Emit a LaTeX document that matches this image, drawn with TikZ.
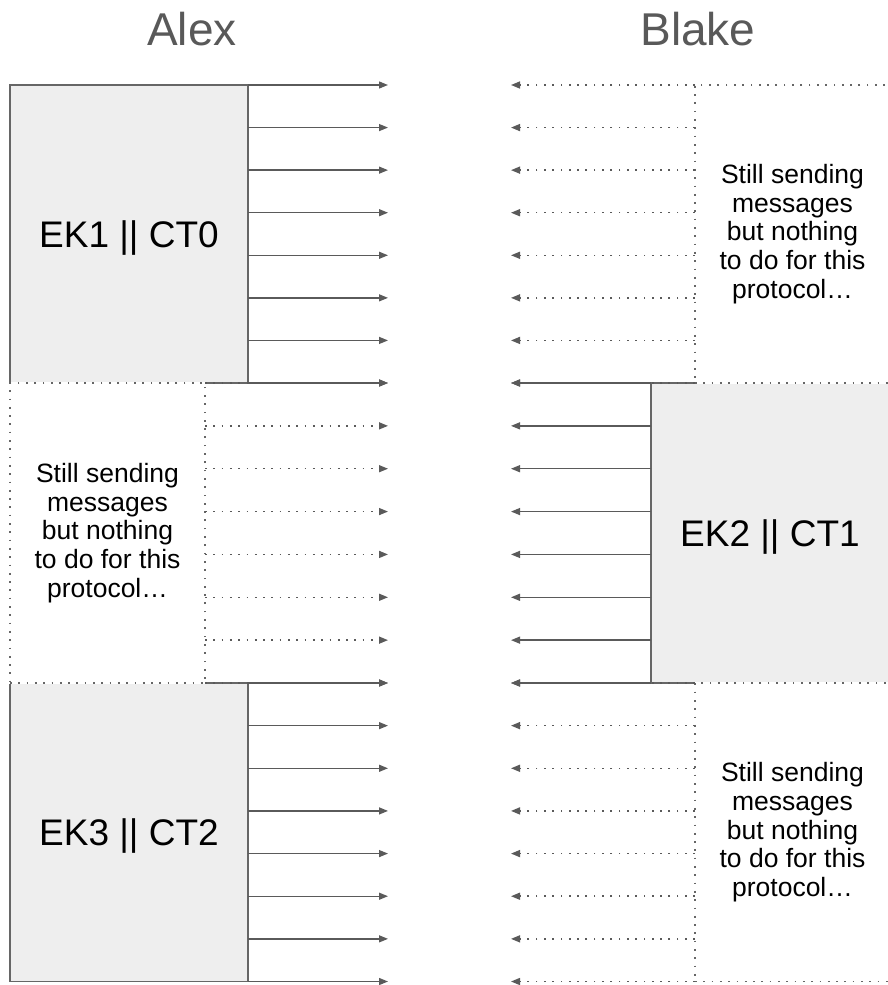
\documentclass[tikz,border=0pt]{standalone}
\usepackage{fontspec}
\setmainfont{Liberation Sans}
\usetikzlibrary{arrows.meta,calc}
\definecolor{boxfill}{HTML}{EEEEEE}
\definecolor{edgec}{HTML}{666666}
\definecolor{arrowc}{HTML}{5A5A5A}
\definecolor{titlec}{HTML}{595959}
\begin{document}
\begin{tikzpicture}[x=1pt,y=-1pt,
  solidbox/.style={draw=edgec, fill=boxfill, line width=1.3pt, outer sep=0pt, inner sep=0pt,
    anchor=north west, font=\fontsize{37}{41}\selectfont, text height=26.5pt, text depth=0pt},
  dotbox/.style={draw=edgec, fill=white, line width=1.5pt, dash pattern=on 1.7pt off 6.6pt,
    preaction={draw=white, solid, line width=1.8pt},
    outer sep=0pt, inner sep=0pt, anchor=north west, align=center,
    font=\fontsize{26.5}{28.7}\selectfont},
  sarrow/.style={draw=arrowc, line width=1.3pt, -{Triangle[length=9pt,width=7pt]}},
  darrow/.style={draw=arrowc, line width=1.5pt, dash pattern=on 1.7pt off 6.6pt,
    -{Triangle[length=9pt,width=7pt]}},
  ttl/.style={font=\fontsize{46}{50}\selectfont, text=titlec, anchor=base, inner sep=0pt}
]
\useasboundingbox (0,0) rectangle (888,985);
\clip (0,0) rectangle (888,985);

% titles
\node[ttl] (alex) at (192,45) {Alex};
\node[ttl] (blake) at (698,45) {Blake};

% solid boxes
\node[solidbox, minimum width=238pt, minimum height=298pt] (b1) at (10,85) {EK1 || CT0};
\node[solidbox, minimum width=238pt, minimum height=298.5pt] (b3) at (10,683) {EK3 || CT2};
\node[solidbox, minimum width=238pt, minimum height=300pt] (b2) at (651,383) {EK2 || CT1};

% dotted boxes
\node[dotbox, minimum width=195pt, minimum height=300pt] (d1) at (10,383)
  {Still sending\\messages\\but nothing\\to do for this\\protocol…};
\node[dotbox, minimum width=195pt, minimum height=298pt] (r1) at (695,85)
  {Still sending\\messages\\but nothing\\to do for this\\protocol…};
\node[dotbox, minimum width=195pt, minimum height=298.5pt] (r2) at (695,683)
  {Still sending\\messages\\but nothing\\to do for this\\protocol…};

% arrow end columns
\coordinate (Lend) at (388,0);
\coordinate (Rend) at (511,0);

% dotted arrows
\foreach \k in {0,...,7}{
  \coordinate (d1s\k) at ($(d1.north east)!\k/7!(d1.south east)$);
  \draw[darrow] (d1s\k) -- (d1s\k -| Lend);
  \coordinate (r1s\k) at ($(r1.north west)!\k/7!(r1.south west)$);
  \draw[darrow] (r1s\k) -- (r1s\k -| Rend);
  \coordinate (r2s\k) at ($(r2.north west)!\k/7!(r2.south west)$);
  \draw[darrow] (r2s\k) -- (r2s\k -| Rend);
}

% solid arrows
\foreach \k in {0,...,7}{
  \coordinate (b1s\k) at ($(b1.north east)!\k/7!(b1.south east)$);
  \draw[sarrow] (b1s\k) -- (b1s\k -| Lend);
  \coordinate (b3s\k) at ($(b3.north east)!\k/7!(b3.south east)$);
  \draw[sarrow] (b3s\k) -- (b3s\k -| Lend);
  \coordinate (b2s\k) at ($(b2.north west)!\k/7!(b2.south west)$);
  \draw[sarrow] (b2s\k) -- (b2s\k -| Rend);
}
\end{tikzpicture}
\end{document}
